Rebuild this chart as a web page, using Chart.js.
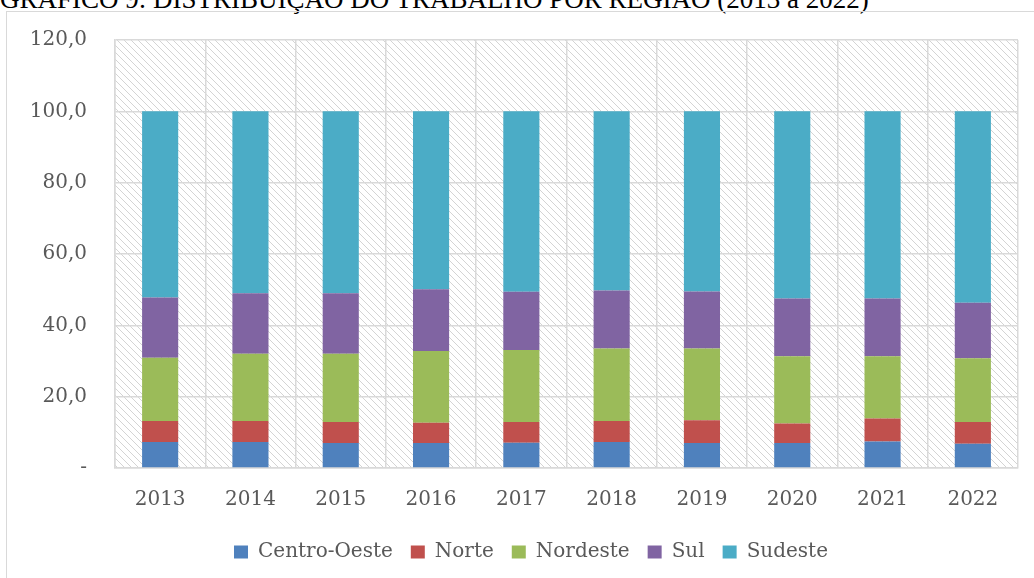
<!DOCTYPE html>
<html>
<head>
<meta charset="utf-8">
<script src="https://cdn.jsdelivr.net/npm/chart.js@4/dist/chart.umd.min.js"></script>
<style>
  body { margin: 0; width: 1034px; height: 578px; overflow: hidden; background: #fff; position: relative; }
  #title { position: absolute; left: 0; top: -16px; font-family: "Liberation Serif", serif; font-size: 27px; color: #000; white-space: nowrap; }
  #frame { position: absolute; left: 6px; top: 11px; width: 1100px; height: 700px; border: 1.5px solid #d9d9d9; box-sizing: border-box; }
  #wrap { position: absolute; left: 0; top: 0; width: 1034px; height: 578px; }
</style>
</head>
<body>
<div id="title">GRÁFICO 9: DISTRIBUIÇÃO DO TRABALHO POR REGIÃO (2013 a 2022)</div>
<div id="frame"></div>
<div id="wrap"><canvas id="chart"></canvas></div>
<script>
const years = ["2013", "2014", "2015", "2016", "2017", "2018", "2019", "2020", "2021", "2022"];
const centroOeste = [7.3, 7.3, 7.0, 7.0, 7.1, 7.3, 7.0, 7.0, 7.4, 6.8];
const norte = [5.9, 5.9, 5.9, 5.7, 5.8, 5.9, 6.4, 5.5, 6.5, 6.1];
const nordeste = [17.7, 18.8, 19.1, 20.1, 20.2, 20.3, 20.1, 18.8, 17.4, 17.9];
const sul = [16.9, 17.0, 17.0, 17.3, 16.3, 16.3, 16.0, 16.2, 16.2, 15.5];
const sudeste = [52.2, 51.0, 51.0, 49.9, 50.6, 50.2, 50.5, 52.5, 52.5, 53.7];

const txt = "#595959";
const grid = "#d9d9d9";
const serif = "'DejaVu Serif', serif";

// hatch pattern for the plot background
const tile = document.createElement("canvas");
tile.width = 7; tile.height = 7;
const tc = tile.getContext("2d");
tc.strokeStyle = "#d4d4d4";
tc.lineWidth = 1;
tc.beginPath();
tc.moveTo(-1, -1); tc.lineTo(8, 8);
tc.moveTo(-1, 6); tc.lineTo(1, 8);
tc.moveTo(6, -1); tc.lineTo(8, 1);
tc.stroke();

const hatch = {
  id: "hatch",
  beforeDraw(c) {
    const a = c.chartArea;
    const ctx = c.ctx;
    ctx.save();
    ctx.fillStyle = ctx.createPattern(tile, "repeat");
    ctx.fillRect(a.left, a.top, a.right - a.left, a.bottom - a.top);
    ctx.restore();
  }
};

// nudge the legend a bit right, like the original
const legendShift = {
  id: "legendShift",
  afterLayout(c) {
    c.legend.left += 22;
    c.legend.right += 22;
  }
};

const ctx = document.getElementById("chart").getContext("2d");

new Chart(ctx, {
  type: "bar",
  data: {
    labels: years,
    datasets: [
      { label: "Centro-Oeste", data: centroOeste, backgroundColor: "#4F81BD" },
      { label: "Norte", data: norte, backgroundColor: "#C0504D" },
      { label: "Nordeste", data: nordeste, backgroundColor: "#9BBB59" },
      { label: "Sul", data: sul, backgroundColor: "#8064A2" },
      { label: "Sudeste", data: sudeste, backgroundColor: "#4BACC6" }
    ]
  },
  options: {
    responsive: true,
    maintainAspectRatio: false,
    animation: false,
    barPercentage: 0.4,
    categoryPercentage: 1,
    layout: { padding: { top: 40, right: 16, left: 0, bottom: 6 } },
    plugins: {
      tooltip: { enabled: false },
      legend: {
        position: "bottom",
        labels: {
          font: { family: serif, size: 20 },
          color: txt,
          boxWidth: 14,
          boxHeight: 13,
          padding: 18
        }
      }
    },
    scales: {
      x: {
        stacked: true,
        grid: { color: grid, lineWidth: 1.5, drawTicks: false },
        border: { color: grid, width: 1.5 },
        ticks: { font: { family: serif, size: 20 }, color: txt, padding: 20 },
        afterFit(s) { s.height = 56; }
      },
      y: {
        stacked: true,
        min: 0,
        max: 120,
        grid: { color: grid, lineWidth: 1.5, drawTicks: false },
        border: { color: grid, width: 1.5 },
        ticks: {
          stepSize: 20,
          font: { family: serif, size: 20 },
          color: txt,
          padding: 28,
          callback: v => v === 0 ? "-" : v.toFixed(1).replace(".", ",")
        },
        afterFit(s) { s.width = 115; }
      }
    }
  },
  plugins: [hatch, legendShift]
});
</script>
</body>
</html>
